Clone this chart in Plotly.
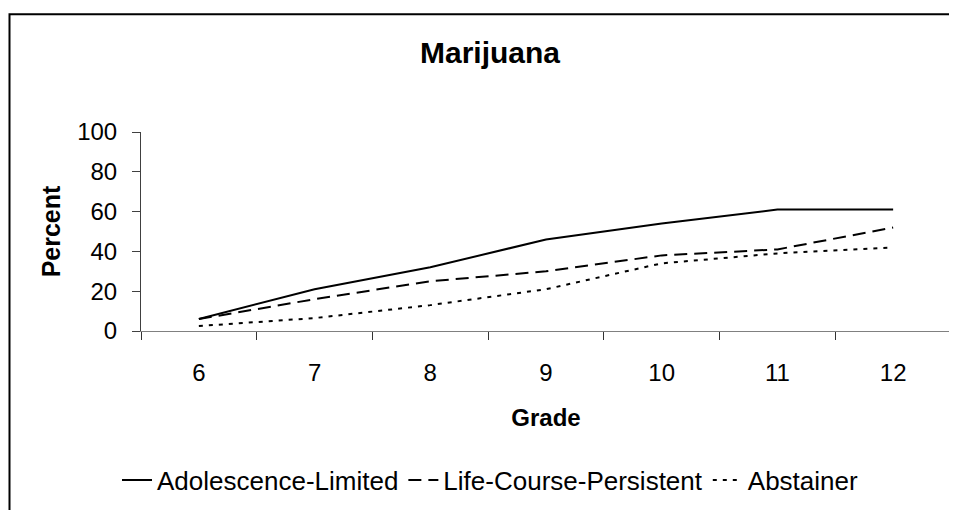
import plotly.graph_objects as go

grades = ["6", "7", "8", "9", "10", "11", "12"]
adolescence_limited = [6, 21, 32, 46, 54, 61, 61]
life_course_persistent = [6, 16, 25, 30, 38, 41, 52]
abstainer = [2.5, 6.5, 13, 21, 34, 39, 42]
y_ticks = [0, 20, 40, 60, 80, 100]

FONT = "Liberation Sans, Arial, sans-serif"

# the page body adds an 8px margin, so the figure is 8px smaller than the window
W, H = 949, 502
L, R, T, B = 133, 6, 124, 175
plot_w = W - L - R
plot_h = H - T - B

fig = go.Figure()
for values, label, dash in [
    (adolescence_limited, "Adolescence-Limited", "solid"),
    (life_course_persistent, "Life-Course-Persistent", "13px,7px"),
    (abstainer, "Abstainer", "4px,6px"),
]:
    fig.add_trace(
        go.Scatter(
            x=grades,
            y=values,
            mode="lines",
            name=label,
            line=dict(color="black", width=2, dash=dash),
        )
    )

fig.update_layout(
    width=W,
    height=H,
    margin=dict(l=L, r=R, t=T, b=B),
    paper_bgcolor="white",
    plot_bgcolor="white",
    font=dict(family=FONT, size=24, color="black"),
    title=dict(
        text="<b>Marijuana</b>",
        font=dict(size=30),
        x=482 / W,
        xanchor="center",
        xref="container",
        y=1 - 44 / H,
        yanchor="middle",
        yref="container",
    ),
    legend=dict(
        orientation="h",
        x=(482 - L) / plot_w,
        xanchor="center",
        y=(T + plot_h - 479) / plot_h,
        yanchor="middle",
        font=dict(size=26),
        itemwidth=30,
        traceorder="normal",
    ),
    showlegend=True,
)

fig.update_xaxes(
    type="category",
    range=[-0.5, 6.5],
    showline=True,
    linecolor="#808080",
    linewidth=1,
    ticks="outside",
    tickson="boundaries",
    ticklen=8,
    tickcolor="#333333",
    ticklabelstandoff=20,
    showgrid=False,
    zeroline=False,
    title=dict(text="<b>Grade</b>", font=dict(size=24), standoff=24),
)
fig.update_yaxes(
    range=[0, 100],
    tickvals=y_ticks,
    showline=True,
    linecolor="#404040",
    linewidth=1,
    ticks="outside",
    ticklen=8,
    tickcolor="#404040",
    ticklabelstandoff=10,
    showgrid=False,
    zeroline=False,
    title=dict(text="<b>Percent</b>", font=dict(size=25), standoff=9),
)

# chart frame (right and bottom edges fall outside the picture)
fig.add_shape(
    type="rect",
    xref="paper",
    yref="paper",
    x0=(1.5 - L) / plot_w,
    x1=1.1,
    y0=-1.2,
    y1=1 + (T - 4) / plot_h,
    line=dict(color="black", width=2),
    fillcolor="rgba(0,0,0,0)",
    layer="below",
)

fig.write_html("out.html")
